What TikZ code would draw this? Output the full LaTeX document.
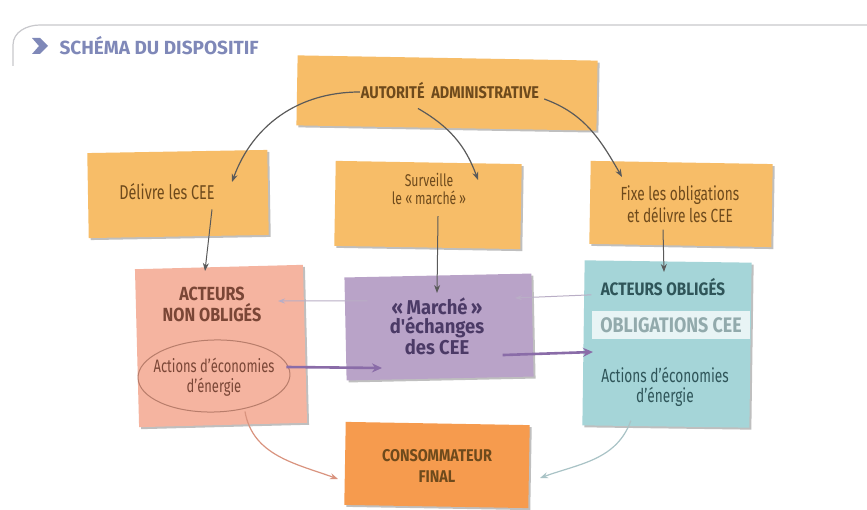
\documentclass[tikz,border=0pt]{standalone}
\usepackage{fontspec}
\setmainfont{Fira Sans}[FakeStretch=0.72]
\newfontfamily\fb{Fira Sans}[FakeStretch=0.85]
\newfontfamily\fc{Fira Sans}[FakeStretch=0.92]
\newfontfamily\fd{Fira Sans}
\usetikzlibrary{arrows.meta,shadows,shapes.geometric}
\definecolor{noteor}{HTML}{F7BD68}
\definecolor{notepk}{HTML}{F5B4A0}
\definecolor{notepu}{HTML}{B9A3C8}
\definecolor{notetl}{HTML}{A5D5D8}
\definecolor{noteco}{HTML}{F69B4E}
\definecolor{txtbr}{HTML}{6E4A1C}
\definecolor{txtpk}{HTML}{7A4636}
\definecolor{txtpu}{HTML}{4B3A66}
\definecolor{txttl}{HTML}{2F5559}
\definecolor{arrgr}{HTML}{5A5A5A}
\definecolor{arrpu}{HTML}{8A6CA8}
\definecolor{arrpl}{HTML}{B9AEC6}
\definecolor{arrsa}{HTML}{D9937E}
\definecolor{arrtl}{HTML}{A9C3C6}
\definecolor{titc}{HTML}{7F88B8}
\definecolor{framec}{HTML}{C8C8CC}
\tikzset{
  note/.style={draw=none,inner sep=2pt,align=center,
    drop shadow={shadow xshift=2pt,shadow yshift=-2pt,opacity=0.25,fill=black}},
  ornote/.style={note,fill=noteor},
  plain/.style={align=center,inner sep=1pt},
  darr/.style={draw=arrgr,line width=1.2pt,-{Stealth[length=8pt,width=6pt]}},
  thinarr/.style={draw=arrpl,line width=1pt,-{Stealth[length=7pt,width=5pt]}},
  thickarr/.style={draw=arrpu,line width=2.6pt,-{Stealth[length=10pt,width=9pt]}},
}
\begin{document}
\begin{tikzpicture}[x=1pt,y=-1pt]
\useasboundingbox (0,0) rectangle (867,510);
\fill[white] (0,0) rectangle (867,510);
% frame
\draw[framec,line width=1.2pt] (13,66) -- (13,45) to[out=90,in=180] (40,25) -- (867,25);
% title
\fill[titc] (32,38) -- (40,38) -- (48,46) -- (40,54) -- (32,54) -- (39,46) -- cycle;
\node[anchor=west,text=titc,font=\fd\bfseries\fontsize{19}{20}\selectfont] (title) at (56,46) {SCHÉMA DU DISPOSITIF};
% notes
\node[ornote,minimum width=300pt,minimum height=70pt,rotate=-1] (auth) at (447,93) {};
\node[plain,text=txtbr,font=\fb\bfseries\fontsize{17}{19}\selectfont] (autht) at (450,91) {AUTORITÉ\ \ ADMINISTRATIVE};
\node[ornote,minimum width=180pt,minimum height=85pt,rotate=1] (deliv) at (178,194) {};
\node[plain,text=txtbr,font=\fontsize{20}{22}\selectfont] (delivt) at (167,192) {Délivre les CEE};
\node[ornote,minimum width=186pt,minimum height=85pt,rotate=-1] (surv) at (428,205) {};
\node[plain,text=txtbr,font=\fontsize{17}{18.5}\selectfont] (survt) at (429,189) {Surveille\\le «\,marché\,»};
\node[ornote,minimum width=182pt,minimum height=83pt,rotate=-1] (fixe) at (681,204) {};
\node[plain,text=txtbr,font=\fontsize{19}{22}\selectfont] (fixet) at (680,204) {Fixe les obligations\\et délivre les CEE};
% acteurs non obliges
\node[note,fill=notepk,minimum width=168pt,minimum height=158pt,rotate=1.5] (nonob) at (221,346) {};
\node[plain,text=txtpk,font=\fb\bfseries\fontsize{19}{21}\selectfont] (nonobt) at (212,304) {ACTEURS\\NON OBLIGÉS};
\node[ellipse,draw=arrsa!85!black,line width=1pt,minimum width=152pt,minimum height=72pt,inner sep=0pt,rotate=1.5] (ell) at (214,376) {};
\node[plain,text=txtpk,font=\fontsize{18}{20}\selectfont] (ellt) at (214,377) {Actions d'économies\\d'énergie};
% marche
\node[note,fill=notepu,minimum width=187pt,minimum height=103pt,rotate=1.2] (march) at (439,327) {};
\node[plain,text=txtpu,font=\fc\bfseries\fontsize{20}{19.5}\selectfont] (marcht) at (437,326) {«\,Marché\,»\\d'échanges\\des CEE};
% acteurs obliges
\node[note,fill=notetl,minimum width=167pt,minimum height=165pt,rotate=-0.8] (oblig) at (667,344) {};
\node[plain,text=txttl,font=\fb\bfseries\fontsize{18}{20}\selectfont] (obligt) at (663,287) {ACTEURS OBLIGÉS};
\node[fill=white!75!notetl,minimum width=158pt,minimum height=28pt,inner sep=0pt,text=notetl!50!gray,font=\fb\bfseries\fontsize{21}{22}\selectfont] (obcee) at (671,325) {OBLIGATIONS CEE};
\node[plain,text=txttl,font=\fontsize{19}{20}\selectfont] (obact) at (665,387) {Actions d'économies\\d'énergie};
% consommateur
\node[note,fill=noteco,minimum width=184pt,minimum height=83pt,rotate=-1] (conso) at (437,465) {};
\node[plain,text=txtbr,font=\fb\bfseries\fontsize{17}{21}\selectfont] (consot) at (437,466) {CONSOMMATEUR\\FINAL};
% arrows
\draw[darr] (autht.west) ++(0,1) to[out=180,in=70] (232,182);
\draw[darr] (autht.south) ++(-32,8) to[out=-30,in=110] (478,180);
\draw[darr] (autht.east) ++(4,8) to[out=-20,in=120] (622,177);
\draw[darr,line width=1pt] (delivt.south) ++(45,8) -- (205,271);
\draw[darr,line width=1pt] (survt.south) ++(9,10) -- (437,293);
\draw[darr,line width=1pt] (fixet.south) ++(-17,6) -- (664,272);
\draw[thinarr] (march.west) ++(22,-28) -- (278,301);
\draw[thinarr] (oblig.west) ++(8,-48) -- (515,298);
\draw[thickarr] (ell.east) ++(-4,-7) -- (382,368);
\draw[thickarr] (march.east) ++(-30,30) -- (593,352);
\draw[draw=arrsa,line width=1.2pt,-{Stealth[length=8pt,width=6pt]}] (ell.south) ++(30,-1) to[out=-80,in=160] (338,479);
\draw[draw=arrtl,line width=1.2pt,-{Stealth[length=8pt,width=6pt]}] (oblig.south) ++(-35,-6) to[out=-110,in=20] (540,478);
\end{tikzpicture}
\end{document}
